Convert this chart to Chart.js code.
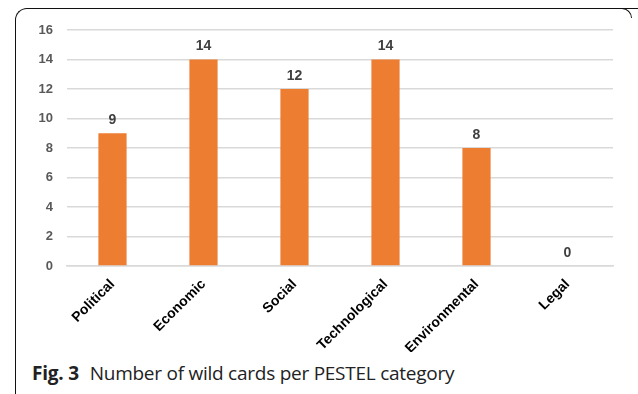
<!DOCTYPE html>
<html>
<head>
<meta charset="utf-8">
<script src="https://cdn.jsdelivr.net/npm/chart.js@4.4.0/dist/chart.umd.min.js"></script>
<style>
    html, body { margin: 0; padding: 0; background: #fff; }
    #wrap { position: relative; width: 638px; height: 394px; overflow: hidden; }
    #frame {
        position: absolute; left: 15px; top: 8px; width: 640px; height: 400px;
        border-left: 1.5px solid #111; border-top: 1.5px solid #111;
        border-top-left-radius: 12px;
    }
    #corner {
        position: absolute; left: 618px; top: 8px; width: 13px; height: 9px;
        border-top: 1.5px solid #111; border-right: 1.5px solid #111;
        border-top-right-radius: 10px;
    }
    #chartBox { position: absolute; left: 0; top: 0; width: 638px; height: 352px; }
    #caption {
        position: absolute; left: 32px; top: 360px;
        font-family: "Open Sans", sans-serif; font-size: 19px; color: #222;
        white-space: nowrap; letter-spacing: -0.25px;
    }
    #caption b { margin-right: 6px; letter-spacing: -0.2px; }
</style>
</head>
<body>
<div id="wrap">
    <div id="frame"></div>
    <div id="corner"></div>
    <div id="chartBox"><canvas id="grafico"></canvas></div>
    <div id="caption"><b>Fig. 3</b> Number of wild cards per PESTEL category</div>
</div>
<script>
// Dados do gráfico
const categorias = ['Political', 'Economic', 'Social', 'Technological', 'Environmental', 'Legal'];
const valores = [9, 14, 12, 14, 8, 0];
const ticksY = [0, 2, 4, 6, 8, 10, 12, 14, 16];

// Plugin simples para escrever os valores em cima das barras
const rotulosBarras = {
    id: 'rotulosBarras',
    afterDatasetsDraw(chart) {
        const ctx = chart.ctx;
        const meta = chart.getDatasetMeta(0);
        ctx.save();
        ctx.font = 'bold 14px "Liberation Sans", Arial, sans-serif';
        ctx.fillStyle = '#404040';
        ctx.textAlign = 'center';
        ctx.textBaseline = 'bottom';
        meta.data.forEach((bar, i) => {
            ctx.fillText(String(valores[i]), bar.x, bar.y - 6);
        });
        ctx.restore();
    }
};

new Chart(document.getElementById('grafico'), {
    type: 'bar',
    data: {
        labels: categorias,
        datasets: [{
            data: valores,
            backgroundColor: '#ED7D31',
            barPercentage: 0.62,
            categoryPercentage: 0.5
        }]
    },
    options: {
        responsive: true,
        maintainAspectRatio: false,
        animation: false,
        layout: { padding: { top: 30, right: 25, left: 0, bottom: 0 } },
        plugins: {
            legend: { display: false },
            tooltip: { enabled: false }
        },
        scales: {
            y: {
                min: 0,
                max: 16,
                afterBuildTicks: (scale) => { scale.ticks = ticksY.map(v => ({ value: v })); },
                afterFit: (scale) => { scale.width = 67; },
                grid: { color: '#D9D9D9', lineWidth: 1.5, drawTicks: false },
                border: { display: false },
                ticks: {
                    padding: 14,
                    color: '#595959',
                    font: { family: '"Liberation Sans", Arial, sans-serif', size: 13, weight: 'bold' }
                }
            },
            x: {
                afterFit: (scale) => { scale.height = 86; },
                grid: { display: false, drawTicks: false },
                border: { color: '#D9D9D9', width: 1.5 },
                ticks: {
                    minRotation: 45,
                    maxRotation: 45,
                    padding: 10,
                    color: '#000',
                    font: { family: '"Liberation Sans", Arial, sans-serif', size: 14, weight: 'bold' }
                }
            }
        }
    },
    plugins: [rotulosBarras]
});
</script>
</body>
</html>
